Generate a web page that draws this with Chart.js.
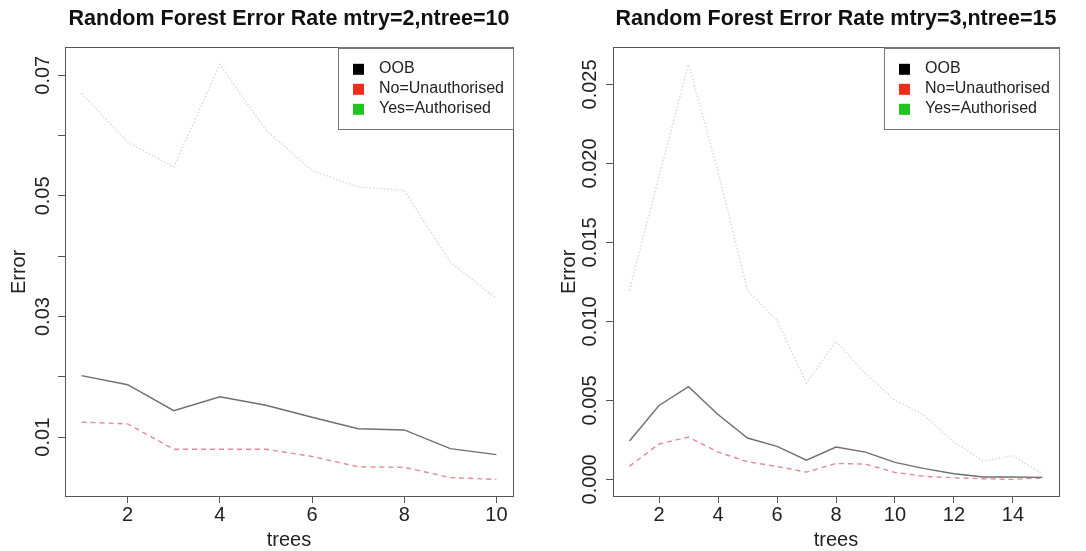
<!DOCTYPE html>
<html lang="en">
<head>
<meta charset="UTF-8">
<title>Random Forest Error Rate</title>
<script src="https://cdn.jsdelivr.net/npm/chart.js"></script>
<style>
  body { margin: 0; background: #fff; }
  .panel { position: absolute; top: 0; height: 551px; }
  #p1 { left: 0; width: 540px; }
  #p2 { left: 540px; width: 546px; }
</style>
</head>
<body>
<div class="panel" id="p1"><canvas id="chart1"></canvas></div>
<div class="panel" id="p2"><canvas id="chart2"></canvas></div>

<script>
// left panel: mtry=2, ntree=10
const trees1 = [1, 2, 3, 4, 5, 6, 7, 8, 9, 10];
const oob1 = [0.0202, 0.0187, 0.0144, 0.0167, 0.0153, 0.0133, 0.0114, 0.0112, 0.0081, 0.0071];
const no1  = [0.0125, 0.0122, 0.0080, 0.0080, 0.0080, 0.0068, 0.0051, 0.0050, 0.0033, 0.0030];
const yes1 = [0.0670, 0.0589, 0.0548, 0.0718, 0.0609, 0.0542, 0.0515, 0.0509, 0.0390, 0.0330];
const xLabels1 = ['2', '4', '6', '8', '10'];
const yLabels1 = ['0.01', '0.03', '0.05', '0.07'];

// right panel: mtry=3, ntree=15
const trees2 = [1, 2, 3, 4, 5, 6, 7, 8, 9, 10, 11, 12, 13, 14, 15];
const oob2 = [0.00243, 0.00468, 0.00587, 0.00411, 0.00262, 0.00209, 0.00122, 0.00205, 0.00173, 0.00108, 0.00068, 0.00036, 0.00015, 0.00015, 0.00013];
const no2  = [0.00084, 0.00224, 0.00268, 0.00173, 0.00112, 0.00082, 0.00046, 0.00101, 0.00097, 0.00044, 0.00019, 0.00010, 0.00004, 0.00000, 0.00010];
const yes2 = [0.01196, 0.01920, 0.02627, 0.01950, 0.01196, 0.01006, 0.00610, 0.00873, 0.00669, 0.00500, 0.00405, 0.00236, 0.00116, 0.00150, 0.00036];
const xLabels2 = ['2', '4', '6', '8', '10', '12', '14'];
const yLabels2 = ['0.000', '0.005', '0.010', '0.015', '0.020', '0.025'];

const seriesNames = ['OOB', 'No=Unauthorised', 'Yes=Authorised'];
const legendColors = ['#000000', '#f22a1c', '#1fc41f'];

const FONT = '"Liberation Sans", Arial, Helvetica, sans-serif';

// R style legend box in the top right corner of the plot
const legendBox = {
  id: 'legendBox',
  afterDraw(chart) {
    const { ctx, chartArea: a } = chart;
    const w = 175, h = 81;
    const x0 = a.right - w, y0 = a.top;
    ctx.save();
    ctx.fillStyle = '#fff';
    ctx.fillRect(x0, y0, w, h);
    ctx.strokeStyle = '#777';
    ctx.lineWidth = 1;
    ctx.strokeRect(Math.round(x0) + 0.5, Math.round(y0) + 0.5, w, h);
    ctx.font = '16px ' + FONT;
    ctx.textBaseline = 'middle';
    seriesNames.forEach((name, i) => {
      const yy = y0 + 21 + i * 20;
      ctx.fillStyle = legendColors[i];
      ctx.fillRect(x0 + 15, yy - 5, 11, 11);
      ctx.fillStyle = '#222';
      ctx.fillText(name, x0 + 41, yy);
    });
    ctx.restore();
  }
};

function makeChart(id, title, trees, oob, no, yes, xLabels, yLabels, yStep, yDigits, yAxisWidth, labelPad, titlePad) {
  const all = oob.concat(no, yes);
  const lo = Math.min(...all), hi = Math.max(...all);
  const yPad = (hi - lo) * 0.04;
  const xPad = (trees[trees.length - 1] - trees[0]) * 0.04;
  const pts = vals => vals.map((v, i) => ({ x: trees[i], y: v }));

  return new Chart(document.getElementById(id), {
    type: 'line',
    data: {
      datasets: [
        { label: seriesNames[0], data: pts(oob), borderColor: '#6f6f6f', borderWidth: 1.4 },
        { label: seriesNames[1], data: pts(no), borderColor: '#e48a96', borderWidth: 1.4, borderDash: [5, 4] },
        { label: seriesNames[2], data: pts(yes), borderColor: '#dbd6d6', borderWidth: 1.4, borderDash: [1.5, 2] }
      ]
    },
    options: {
      responsive: true,
      maintainAspectRatio: false,
      animation: false,
      layout: { padding: { left: 0, right: 27, top: 0, bottom: 0 } },
      elements: { point: { radius: 0 }, line: { tension: 0 } },
      plugins: {
        legend: { display: false },
        tooltip: { enabled: false },
        title: {
          display: true,
          text: title,
          fullSize: false,
          color: '#111',
          font: { family: FONT, size: 21.5, weight: 'bold' },
          padding: { top: 6, bottom: 16 }
        }
      },
      scales: {
        x: {
          type: 'linear',
          min: trees[0] - xPad,
          max: trees[trees.length - 1] + xPad,
          afterFit: s => { s.height = 55; },
          ticks: {
            stepSize: 2,
            includeBounds: false,
            color: '#222',
            padding: 0,
            maxRotation: 0,
            font: { family: FONT, size: 20 },
            callback: v => (xLabels.includes(String(v)) ? String(v) : '')
          },
          grid: { drawOnChartArea: false, tickLength: 7, color: '#555' },
          border: { color: '#555' },
          title: {
            display: true, text: 'trees', color: '#222',
            font: { family: FONT, size: 20 }, padding: { top: 0, bottom: -1 }
          }
        },
        y: {
          min: lo - yPad,
          max: hi + yPad,
          afterFit: s => { s.width = yAxisWidth; },
          ticks: {
            stepSize: yStep,
            includeBounds: false,
            color: '#222',
            minRotation: 90,
            maxRotation: 90,
            crossAlign: 'center',
            padding: labelPad,
            font: { family: FONT, size: 20 },
            callback: v => {
              const s = v.toFixed(yDigits);
              return yLabels.includes(s) ? s : '';
            }
          },
          grid: { drawOnChartArea: false, tickLength: 7, color: '#555' },
          border: { color: '#555' },
          title: {
            display: true, text: 'Error', color: '#222',
            font: { family: FONT, size: 20 }, padding: { top: titlePad, bottom: 0 }
          }
        },
        xTop: {
          type: 'linear', position: 'top',
          afterFit: s => { s.height = 0; },
          ticks: { display: false },
          grid: { display: false },
          border: { color: '#555' }
        },
        yRight: {
          type: 'linear', position: 'right',
          afterFit: s => { s.width = 0; },
          ticks: { display: false },
          grid: { display: false },
          border: { color: '#555' }
        }
      }
    },
    plugins: [legendBox]
  });
}

makeChart('chart1', 'Random Forest Error Rate mtry=2,ntree=10',
  trees1, oob1, no1, yes1, xLabels1, yLabels1, 0.01, 2, 65, -5, 7);
makeChart('chart2', 'Random Forest Error Rate mtry=3,ntree=15',
  trees2, oob2, no2, yes2, xLabels2, yLabels2, 0.005, 3, 73, -10, 17);
</script>
</body>
</html>
